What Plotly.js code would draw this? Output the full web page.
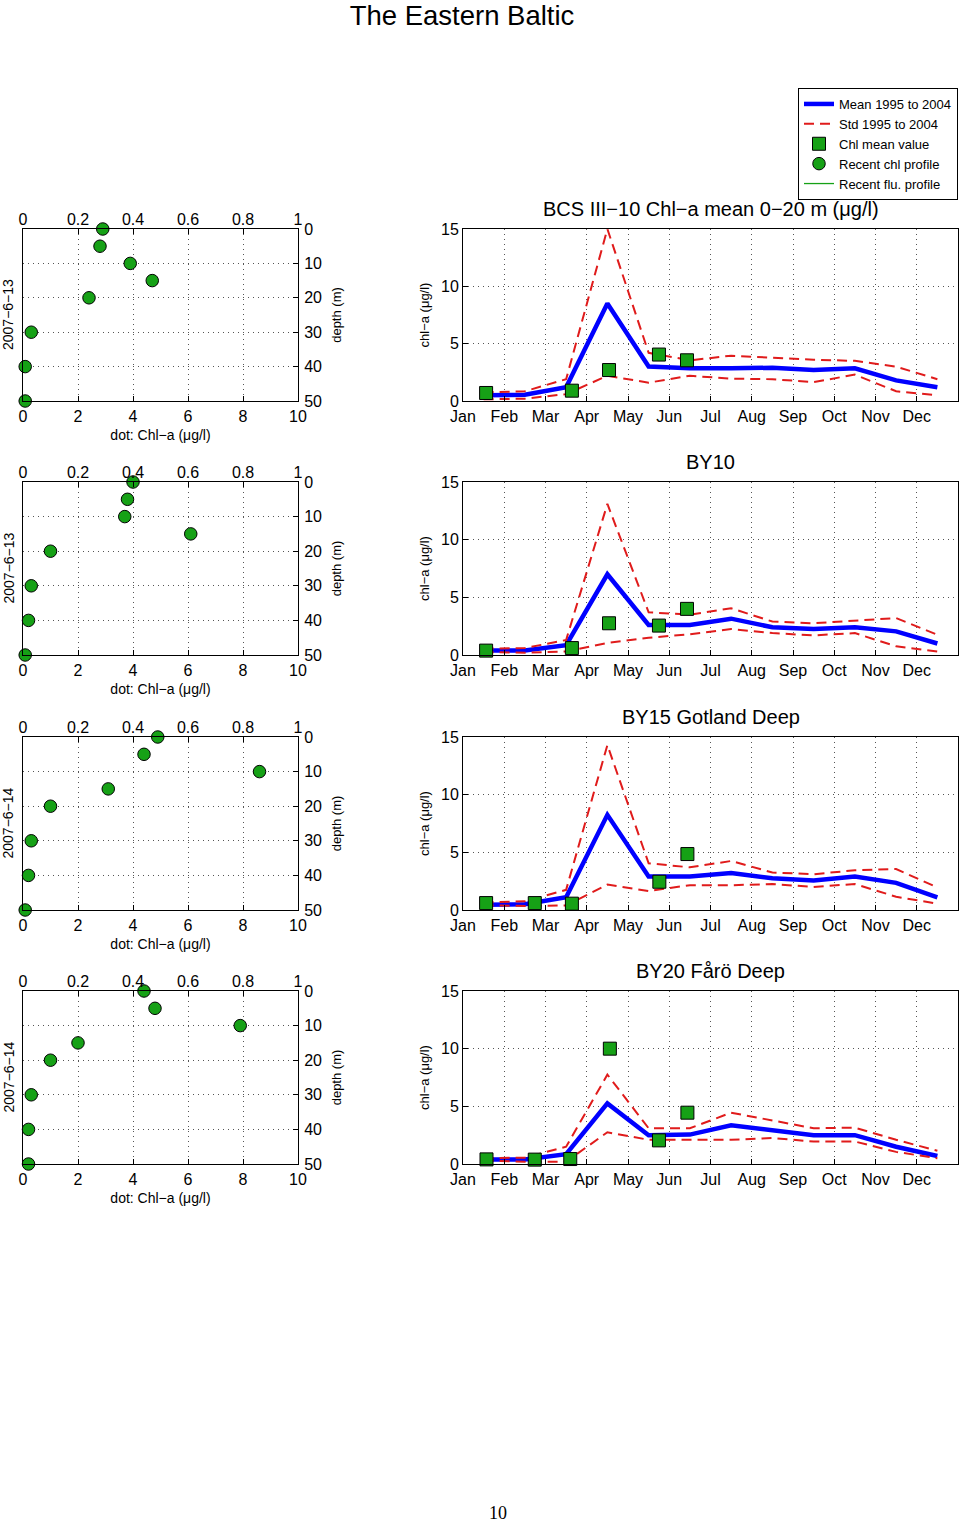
<!DOCTYPE html>
<html>
<head>
<meta charset="utf-8">
<script src="https://cdn.plot.ly/plotly-3.0.1.min.js"></script>
<style>
html,body{margin:0;padding:0;background:#fff;overflow:hidden;}
#chart{width:960px;height:1523px;}
</style>
</head>
<body>
<div id="chart"></div>
<script>
// ---------------- DATA ----------------
const monthNames = ["Jan","Feb","Mar","Apr","May","Jun","Jul","Aug","Sep","Oct","Nov","Dec"];
const monthTicks = [1,2,3,4,5,6,7,8,9,10,11,12];
const monthMid = [1.5,2.5,3.5,4.5,5.5,6.5,7.5,8.5,9.5,10.5,11.5,12.5];

const stationTitles = ["BCS III\u221210 Chl\u2212a mean 0\u221220 m (\u03bcg/l)", "BY10", "BY15 Gotland Deep", "BY20 F\u00e5r\u00f6 Deep"];
const profileDates = ["2007\u22126\u221213", "2007\u22126\u221213", "2007\u22126\u221214", "2007\u22126\u221214"];

// Mean 1995 to 2004
const meanBCS  = [0.5, 0.55, 1.2, 8.5, 3.0, 2.85, 2.85, 2.9, 2.7, 2.85, 1.8, 1.2];
const meanBY10 = [0.4, 0.4, 0.85, 7.0, 2.6, 2.6, 3.15, 2.4, 2.25, 2.4, 2.05, 1.0];
const meanBY15 = [0.45, 0.5, 1.1, 8.25, 2.9, 2.9, 3.2, 2.75, 2.55, 2.9, 2.35, 1.1];
const meanBY20 = [0.38, 0.4, 0.85, 5.25, 2.5, 2.55, 3.35, 2.95, 2.5, 2.5, 1.5, 0.7];

// Std 1995 to 2004 (upper / lower)
const upperBCS  = [0.75, 0.85, 1.9, 15.0, 4.2, 3.55, 3.95, 3.75, 3.6, 3.5, 3.0, 1.9];
const lowerBCS  = [0.15, 0.2, 0.6, 2.2, 1.6, 2.2, 1.95, 1.9, 1.65, 2.3, 0.85, 0.5];
const upperBY10 = [0.55, 0.6, 1.3, 13.1, 3.7, 3.5, 4.05, 2.9, 2.75, 3.0, 3.2, 1.75];
const lowerBY10 = [0.25, 0.2, 0.3, 1.05, 1.5, 1.8, 2.25, 1.9, 1.7, 1.9, 0.75, 0.3];
const upperBY15 = [0.65, 0.75, 1.75, 14.3, 4.05, 3.7, 4.25, 3.25, 3.1, 3.45, 3.55, 1.95];
const lowerBY15 = [0.4, 0.35, 0.4, 2.2, 1.65, 2.15, 2.15, 2.25, 2.0, 2.25, 1.15, 0.55];
const upperBY20 = [0.5, 0.55, 1.5, 7.75, 3.1, 3.1, 4.45, 3.75, 3.1, 3.15, 2.1, 1.15];
const lowerBY20 = [0.3, 0.2, 0.2, 2.75, 2.1, 2.1, 2.1, 2.25, 1.95, 1.95, 1.05, 0.5];

// Chl mean value (sample times in month units)
const sampleTimeBCS  = [1.56, 3.64, 4.54, 5.75, 6.43];
const sampleChlBCS   = [0.7, 0.9, 2.7, 4.05, 3.55];
const sampleTimeBY10 = [1.56, 3.64, 4.54, 5.75, 6.43];
const sampleChlBY10  = [0.38, 0.6, 2.75, 2.55, 4.0];
const sampleTimeBY15 = [1.56, 2.74, 3.64, 5.76, 6.44];
const sampleChlBY15  = [0.6, 0.6, 0.55, 2.45, 4.85];
const sampleTimeBY20 = [1.57, 2.74, 3.6, 4.56, 5.75, 6.44];
const sampleChlBY20  = [0.4, 0.38, 0.43, 10.0, 2.05, 4.45];

// Recent chl profiles
const depths = [0, 5, 10, 15, 20, 30, 40, 50];
const profBCS  = [2.9, 2.8, 3.9, 4.7, 2.4, 0.3, 0.08, 0.08];
const profBY10 = [4.0, 3.8, 3.7, 6.1, 1.0, 0.3, 0.2, 0.08];
const profBY15 = [4.9, 4.4, 8.6, 3.1, 1.0, 0.3, 0.2, 0.08];
const profBY20 = [4.4, 4.8, 7.9, 2.0, 1.0, 0.3, 0.2, 0.2];

// Recent flu. profile (no values drawn in this figure)
const fluValues = [null];
const fluDepths = [null];

const means   = [meanBCS, meanBY10, meanBY15, meanBY20];
const uppers  = [upperBCS, upperBY10, upperBY15, upperBY20];
const lowers  = [lowerBCS, lowerBY10, lowerBY15, lowerBY20];
const sTimes  = [sampleTimeBCS, sampleTimeBY10, sampleTimeBY15, sampleTimeBY20];
const sChl    = [sampleChlBCS, sampleChlBY10, sampleChlBY15, sampleChlBY20];
const profs   = [profBCS, profBY10, profBY15, profBY20];

// ---------------- LAYOUT ----------------
const W = 960, H = 1523;
const FONT = "Liberation Sans, Arial, Helvetica, sans-serif";
const rowsPx = [[229,401],[482,655],[737,910],[991,1164]];
const profPx = [23,298];
const tsPx = [463,958];

const BLUE = "#0000ff", RED = "#e01b1b", GREEN = "#16a116";
const gridStyle = {showgrid:true, gridcolor:"#555", gridwidth:1, griddash:"1px,4px", zeroline:false};
const boxStyle = {showline:true, linecolor:"#000", linewidth:1, mirror:true, ticks:"inside", ticklen:5, tickcolor:"#000",
                  automargin:false, tickfont:{family:FONT,size:16,color:"#000"}};

function xn(n){return n===1?"xaxis":"xaxis"+n;}
function yn(n){return n===1?"yaxis":"yaxis"+n;}
function xr(n){return n===1?"x":"x"+n;}
function yr(n){return n===1?"y":"y"+n;}

const layout = {
  width: W, height: H,
  margin: {l:0, r:0, t:0, b:0, autoexpand:false},
  paper_bgcolor: "#fff", plot_bgcolor: "#fff",
  font: {family: FONT, color: "#000"},
  showlegend: true,
  title: {text: "The Eastern Baltic", x: 462/W, xanchor: "center", y: 1 - 15/H, yanchor: "middle", yref: "paper",
          font: {family: FONT, size: 27.5, color: "#000"}},
  legend: {x: 958/W, y: 1 - 88/H, xanchor: "right", yanchor: "top", bgcolor: "#fff", bordercolor: "#000", borderwidth: 1,
           font: {family: FONT, size: 13, color: "#000"}, tracegroupgap: 0, itemwidth: 30},
  annotations: [],
};

const traces = [];

for (let r = 0; r < 4; r++) {
  const [top, bot] = rowsPx[r];
  const yDom = [1 - bot/H, 1 - top/H];
  const nxP = 3*r+1, nxT = 3*r+2, nxS = 3*r+3;
  const nyP = 2*r+1, nyS = 2*r+2;

  // profile bottom axis
  layout[xn(nxP)] = Object.assign({}, gridStyle, boxStyle, {
    domain: [profPx[0]/W, profPx[1]/W], anchor: yr(nyP), side: "bottom",
    range: [0, 10], dtick: 2, tick0: 0, ticklabelstandoff: 1,
    title: {text: "dot: Chl\u2212a (\u03bcg/l)", font: {family: FONT, size: 14, color: "#000"}, standoff: 5}
  });
  // profile top axis (fluorescence)
  layout[xn(nxT)] = {
    overlaying: xr(nxP), anchor: yr(nyP), side: "top",
    range: [0, 1], dtick: 0.2, tick0: 0, showgrid: false, zeroline: false, showline: false,
    ticks: "inside", ticklen: 5, tickcolor: "#000", automargin: false,
    tickfont: {family: FONT, size: 16, color: "#000"}
  };
  // profile depth axis
  layout[yn(nyP)] = Object.assign({}, gridStyle, boxStyle, {
    domain: yDom, anchor: xr(nxP), side: "right",
    range: [50, 0], dtick: 10, tick0: 0, ticklabelstandoff: 2,
    title: {text: "depth (m)", font: {family: FONT, size: 13, color: "#000"}, standoff: 10}
  });
  // time series axes
  layout[xn(nxS)] = Object.assign({}, gridStyle, boxStyle, {
    domain: [tsPx[0]/W, tsPx[1]/W], anchor: yr(nyS), side: "bottom",
    range: [1, 13], tickmode: "array", tickvals: monthTicks, ticktext: monthNames, ticklabelstandoff: 1
  });
  layout[yn(nyS)] = Object.assign({}, gridStyle, boxStyle, {
    domain: yDom, anchor: xr(nxS), side: "left",
    range: [0, 15], dtick: 5, tick0: 0,
    title: {text: "chl\u2212a (\u03bcg/l)", font: {family: FONT, size: 13, color: "#000"}, standoff: 8}
  });

  const first = (r === 0);
  traces.push({type:"scatter", mode:"lines", x: monthMid, y: means[r], xaxis: xr(nxS), yaxis: yr(nyS),
               name: "Mean 1995 to 2004", showlegend: first, line: {color: BLUE, width: 4.5}});
  traces.push({type:"scatter", mode:"lines", x: monthMid, y: uppers[r], xaxis: xr(nxS), yaxis: yr(nyS),
               name: "Std 1995 to 2004", showlegend: first, line: {color: RED, width: 2, dash: "10px,6px"}});
  traces.push({type:"scatter", mode:"lines", x: monthMid, y: lowers[r], xaxis: xr(nxS), yaxis: yr(nyS),
               name: "Std 1995 to 2004", showlegend: false, line: {color: RED, width: 2, dash: "10px,6px"}});
  traces.push({type:"scatter", mode:"markers", x: sTimes[r], y: sChl[r], xaxis: xr(nxS), yaxis: yr(nyS),
               name: "Chl mean value", showlegend: first, cliponaxis: false,
               marker: {symbol: "square", size: 13, color: GREEN, line: {color: "#000", width: 1}}});
  traces.push({type:"scatter", mode:"markers", x: profs[r], y: depths, xaxis: xr(nxP), yaxis: yr(nyP),
               name: "Recent chl profile", showlegend: first, cliponaxis: false,
               marker: {symbol: "circle", size: 12.5, color: GREEN, line: {color: "#000", width: 1}}});
  traces.push({type:"scatter", mode:"lines", x: fluValues, y: fluDepths, xaxis: xr(nxT), yaxis: yr(nyP),
               name: "Recent flu. profile", showlegend: first, line: {color: GREEN, width: 1.3}});

  // station title
  layout.annotations.push({text: stationTitles[r], xref: "paper", yref: "paper",
    x: (tsPx[0]+tsPx[1])/2/W, y: 1 - (top - 20)/H, xanchor: "center", yanchor: "middle", showarrow: false,
    font: {family: FONT, size: 20, color: "#000"}});
  // profile date label
  layout.annotations.push({text: profileDates[r], xref: "paper", yref: "paper",
    x: 8/W, y: 1 - ((top+bot)/2)/H, xanchor: "center", yanchor: "middle", textangle: -90, showarrow: false,
    font: {family: FONT, size: 14, color: "#000"}});
}

// page number
layout.annotations.push({text: "10", xref: "paper", yref: "paper", x: 498/W, y: 1 - 1513/H,
  xanchor: "center", yanchor: "middle", showarrow: false,
  font: {family: "Liberation Serif, Times New Roman, serif", size: 18, color: "#000"}});

Plotly.newPlot("chart", traces, layout, {displayModeBar: false, staticPlot: true});
</script>
</body>
</html>
